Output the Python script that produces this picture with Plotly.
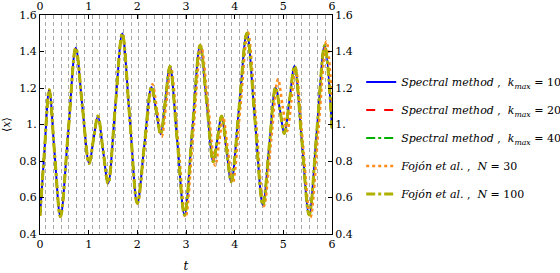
import plotly.graph_objects as go

# ---- data ----
t_spec = [0.00, 0.09, 0.19, 0.30, 0.42, 0.58, 0.735, 0.87, 1.01, 1.10, 1.19, 1.295, 1.40,
          1.545, 1.69, 1.845, 2.00, 2.145, 2.29, 2.385, 2.48, 2.575, 2.67, 2.82, 2.97,
          3.13, 3.29, 3.425, 3.56, 3.645, 3.73, 3.83, 3.93, 4.09, 4.25, 4.415, 4.58,
          4.71, 4.84, 4.93, 5.02, 5.125, 5.23, 5.38, 5.53, 5.69, 5.85, 6.00]
x_k10 = [0.50, 0.85, 1.19, 0.84, 0.495, 0.96, 1.42, 1.10, 0.787, 0.92, 1.046, 0.86, 0.677,
         1.09, 1.498, 1.03, 0.568, 0.89, 1.206, 1.08, 0.947, 1.13, 1.319, 0.91, 0.504,
         0.97, 1.434, 1.12, 0.796, 0.92, 1.046, 0.87, 0.686, 1.09, 1.50, 1.03, 0.559,
         0.88, 1.203, 1.08, 0.951, 1.13, 1.32, 0.91, 0.504, 0.97, 1.434, 0.98]
x_k20 = list(x_k10)
x_k40 = list(x_k10)
x_n100 = list(x_k10)

t_n30 = [0.00, 0.09, 0.19, 0.30, 0.42, 0.58, 0.735, 0.87, 1.01, 1.10, 1.19, 1.295, 1.40,
         1.545, 1.69, 1.845, 2.00, 2.16, 2.31, 2.405, 2.50, 2.595, 2.69, 2.84, 2.99,
         3.15, 3.31, 3.455, 3.60, 3.68, 3.76, 3.86, 3.96, 4.115, 4.27, 4.435, 4.60,
         4.745, 4.89, 4.985, 5.08, 5.165, 5.25, 5.40, 5.555, 5.72, 5.885, 6.00]
x_n30 = [0.50, 0.85, 1.19, 0.84, 0.495, 0.96, 1.42, 1.10, 0.787, 0.92, 1.046, 0.86, 0.677,
         1.09, 1.498, 1.03, 0.568, 0.90, 1.22, 1.08, 0.935, 1.12, 1.31, 0.90, 0.492,
         0.96, 1.43, 1.10, 0.775, 0.90, 1.04, 0.86, 0.68, 1.09, 1.505, 1.03, 0.553,
         0.90, 1.248, 1.10, 0.965, 1.13, 1.31, 0.90, 0.491, 0.97, 1.455, 1.12]

x_ticks = [0, 1, 2, 3, 4, 5, 6]
y_ticks = [0.4, 0.6, 0.8, 1.0, 1.2, 1.4, 1.6]
y_ticktext = ["0.4", "0.6", "0.8", "1.", "1.2", "1.4", "1.6"]

names = [
    "<i>Spectral method</i> ,  <i>k</i><sub><i>max</i></sub> = 10",
    "<i>Spectral method</i> ,  <i>k</i><sub><i>max</i></sub> = 20",
    "<i>Spectral method</i> ,  <i>k</i><sub><i>max</i></sub> = 40",
    "<i>Fojón et al.</i> ,  <i>N</i> = 30",
    "<i>Fojón et al.</i> ,  <i>N</i> = 100",
]

FONT = "DejaVu Serif, Liberation Serif, serif"

fig = go.Figure()
styles = [
    (t_spec, x_k10, "#0000ff", "solid", 2),
    (t_spec, x_k20, "#ff0000", "dash", 2),
    (t_spec, x_k40, "#00b000", "dashdot", 2),
    (t_n30, x_n30, "#ff8c1a", "dot", 2.6),
    (t_spec, x_n100, "#b0b000", "dashdot", 3),
]
for i, (tt, vv, col, dash, w) in enumerate(styles):
    fig.add_trace(go.Scatter(
        x=tt, y=vv, mode="lines", name=names[i], legendgroup=f"g{i}",
        line=dict(color=col, dash=dash, width=w, shape="spline", smoothing=1.0),
    ))

# dummy trace for top/right axes
fig.add_trace(go.Scatter(x=[None], y=[None], xaxis="x2", yaxis="y2",
                         showlegend=False, hoverinfo="skip"))

axis_common = dict(showline=True, linecolor="black", linewidth=1, ticks="inside",
                   ticklen=4, tickcolor="black", showgrid=False, zeroline=False,
                   automargin=False,
                   tickfont=dict(family=FONT, size=11, color="black"))

fig.update_layout(
    width=560, height=273,
    margin=dict(l=40, r=228, t=15, b=39, autoexpand=False),
    paper_bgcolor="white", plot_bgcolor="white",
    font=dict(family=FONT, size=11, color="black"),
    xaxis=dict(range=[0, 6], tickvals=x_ticks, **axis_common,
               title=dict(text="<i>t</i>", standoff=12, font=dict(family=FONT, size=12)),
               minor=dict(tick0=0.116, dtick=0.1595, showgrid=True, gridcolor="#a8a8a8",
                          griddash="4px,3px", gridwidth=1)),
    xaxis2=dict(range=[0, 6], tickvals=x_ticks, overlaying="x", side="top",
                anchor="y", matches="x", **axis_common),
    yaxis=dict(range=[0.4, 1.6], tickvals=y_ticks, ticktext=y_ticktext, **axis_common,
               title=dict(text="⟨<i>x</i>⟩", standoff=6, font=dict(family=FONT, size=11))),
    yaxis2=dict(range=[0.4, 1.6], tickvals=y_ticks, ticktext=y_ticktext, overlaying="y",
                side="right", anchor="x", matches="y", **axis_common),
    legend=dict(x=1.10, y=0.76, xanchor="left", yanchor="top",
                font=dict(family=FONT, size=11), tracegroupgap=9,
                bgcolor="rgba(0,0,0,0)"),
    showlegend=True,
)

fig.write_html("out.html", config={"displayModeBar": False},
               post_script="document.body.style.margin='0px';document.body.style.padding='0px';")
